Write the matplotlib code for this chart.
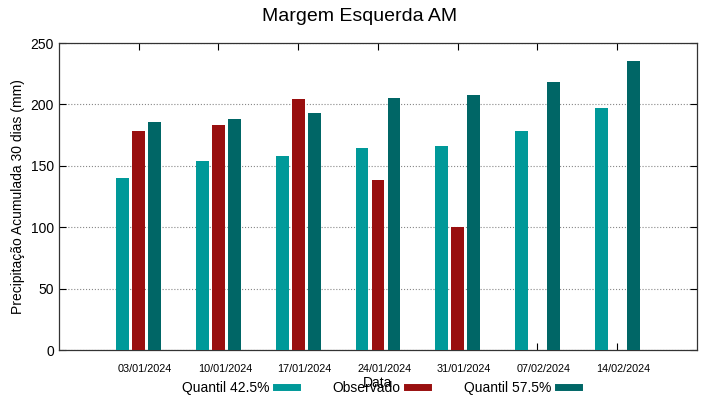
import numpy as np
import matplotlib.pyplot as plt
from matplotlib.lines import Line2D

plt.rcParams['font.family'] = ['Liberation Sans', 'DejaVu Sans']

# data
datas = ['03/01/2024', '10/01/2024', '17/01/2024', '24/01/2024',
         '31/01/2024', '07/02/2024', '14/02/2024']
q425 = [140, 154, 158, 164.5, 166.5, 178.5, 197]
observado = [178, 183, 204.5, 138.5, 100.5, np.nan, np.nan]
q575 = [186, 188, 193, 205, 207.5, 218, 235]

cores = ['#009999', '#990f0f', '#006666']
nomes = ['Quantil 42.5%', 'Observado', 'Quantil 57.5%']

fig = plt.figure(figsize=(7.19, 3.99), dpi=100)
ax = fig.add_axes([0.082, 0.1228, 0.8874, 0.7694])

x = np.arange(len(datas))
larg = 0.16
for k, serie in enumerate([q425, observado, q575]):
    ax.bar(x + (k - 1) * 0.2, serie, width=larg, color=cores[k], zorder=3)

ax.set_xlim(-1, 7)
ax.set_ylim(0, 250)
ax.set_yticks([0, 50, 100, 150, 200, 250])

# ticks no centro do grupo, rotulos levemente deslocados para a direita
ax.set_xticks(x)
ax.set_xticklabels([])
ax.set_xticks(x + 0.08, minor=True)
ax.set_xticklabels(datas, minor=True, fontsize=7.8)
ax.tick_params(axis='x', which='minor', length=0, pad=10)
ax.tick_params(axis='y', labelsize=10, direction='in', right=True, length=5)
ax.tick_params(axis='x', which='major', direction='in', top=True, length=5)
ax.yaxis.grid(True, linestyle=':', color='#888888', linewidth=0.8, zorder=0)
for s in ax.spines.values():
    s.set_linewidth(0.9)
    s.set_color('#333333')

ax.set_ylabel('Precipitação Acumulada 30 dias (mm)', fontsize=10)
ax.set_xlabel('Data', fontsize=10, labelpad=0)
ax.xaxis.set_label_coords(0.5, -0.085)
fig.suptitle('Margem Esquerda AM', fontsize=14, y=0.98)

handles = [Line2D([0], [0], color=c, linewidth=5) for c in cores]
fig.legend(handles, nomes, loc='center', bbox_to_anchor=(0.529, 0.028), ncol=3,
           frameon=False, markerfirst=False, handlelength=1.5, fontsize=10,
           columnspacing=2.6, handletextpad=0.45)

fig.savefig('out.png', dpi=100)
